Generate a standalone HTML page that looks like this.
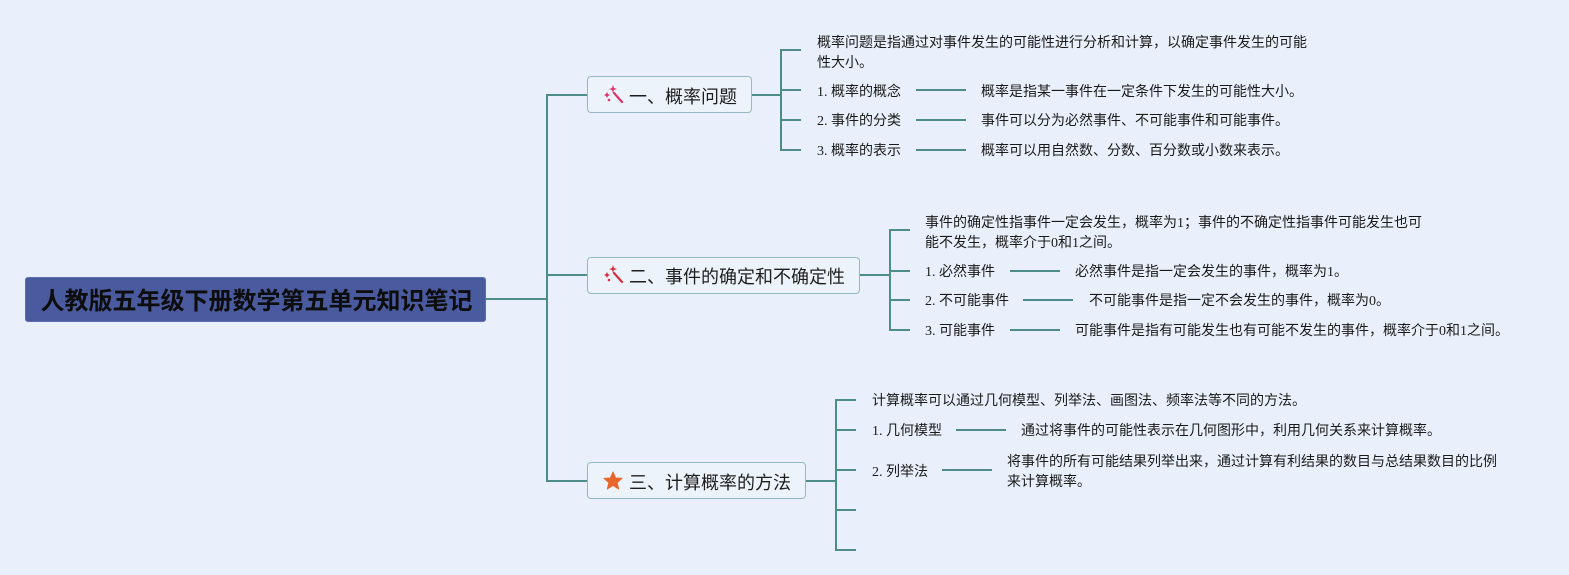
<!DOCTYPE html>
<html>
<head>
<meta charset="utf-8">
<style>
  html, body { margin:0; padding:0; }
  body { width:1569px; height:575px; background:#E9F0FB; position:relative; overflow:hidden;
         font-family:"Liberation Serif","Noto Sans CJK SC",serif; color:#1a1a1a; }
  .t { position:absolute; white-space:nowrap; font-size:14px; line-height:20px; }
  .box { position:absolute; box-sizing:border-box; border:1.5px solid #93B9C2; background:#EDF3FB; border-radius:4px; }
  .bt { position:absolute; white-space:nowrap; font-family:"Liberation Sans","Noto Sans CJK SC",sans-serif; font-size:18px; line-height:24px; color:#1e1e1e; }
  .root { position:absolute; left:25px; top:277px; width:461px; height:45px; background:#4A5A9E; border-radius:3px; box-sizing:border-box; border:1px solid #5e6db0; }
  .rt { position:absolute; left:0; top:1px; width:461px; text-align:center; line-height:45px; font-size:24px; font-weight:bold; font-family:"Liberation Sans","Noto Sans CJK SC",sans-serif; color:#0d0d0d; white-space:nowrap; }
</style>
</head>
<body>
<svg width="1569" height="575" style="position:absolute;left:0;top:0" xmlns="http://www.w3.org/2000/svg">
  <g stroke="#4E8C8A" stroke-width="2" fill="none">
    <line x1="486" y1="299" x2="547" y2="299"/>
    <line x1="547" y1="94" x2="547" y2="482"/>
    <line x1="546" y1="95" x2="587" y2="95"/>
    <line x1="546" y1="275" x2="587" y2="275"/>
    <line x1="546" y1="481" x2="587" y2="481"/>
    <line x1="751" y1="95" x2="781" y2="95"/>
    <line x1="781" y1="49" x2="781" y2="151"/>
    <line x1="780" y1="50" x2="801" y2="50"/>
    <line x1="780" y1="90" x2="801" y2="90"/>
    <line x1="780" y1="120" x2="801" y2="120"/>
    <line x1="780" y1="150" x2="801" y2="150"/>
    <line x1="916" y1="90" x2="966" y2="90"/>
    <line x1="916" y1="120" x2="966" y2="120"/>
    <line x1="916" y1="150" x2="966" y2="150"/>
    <line x1="860" y1="275" x2="890" y2="275"/>
    <line x1="890" y1="229" x2="890" y2="331"/>
    <line x1="889" y1="230" x2="910" y2="230"/>
    <line x1="889" y1="271" x2="910" y2="271"/>
    <line x1="889" y1="300" x2="910" y2="300"/>
    <line x1="889" y1="330" x2="910" y2="330"/>
    <line x1="1010" y1="271" x2="1060" y2="271"/>
    <line x1="1023" y1="300" x2="1073" y2="300"/>
    <line x1="1010" y1="330" x2="1060" y2="330"/>
    <line x1="805" y1="481" x2="836" y2="481"/>
    <line x1="836" y1="399" x2="836" y2="551"/>
    <line x1="835" y1="400" x2="856" y2="400"/>
    <line x1="835" y1="430" x2="856" y2="430"/>
    <line x1="835" y1="470" x2="856" y2="470"/>
    <line x1="835" y1="510" x2="856" y2="510"/>
    <line x1="835" y1="550" x2="856" y2="550"/>
    <line x1="956" y1="430" x2="1006" y2="430"/>
    <line x1="942" y1="470" x2="992" y2="470"/>
  </g>
</svg>

<div class="root"><div class="rt">人教版五年级下册数学第五单元知识笔记</div></div>

<div class="box" style="left:587px;top:76px;width:165px;height:37px;"></div>
<svg style="position:absolute;left:603px;top:84px" width="22" height="22" xmlns="http://www.w3.org/2000/svg">
  <line x1="11" y1="9" x2="19" y2="18" stroke="#E0336B" stroke-width="2.2" stroke-linecap="round"/>
  <path d="M10 1 L11 4 L14 5 L11 6 L10 9 L9 6 L6 5 L9 4 Z" fill="#E0336B"/>
  <path d="M4 8 L5 10 L7 11 L5 12 L4 14 L3 12 L1 11 L3 10 Z" fill="#E0336B"/>
  <circle cx="6" cy="16" r="1.3" fill="#E0336B"/>
</svg>
<div class="bt" style="left:629px;top:85px;">一、概率问题</div>

<div class="box" style="left:587px;top:257px;width:273px;height:37px;"></div>
<svg style="position:absolute;left:603px;top:264px" width="22" height="22" xmlns="http://www.w3.org/2000/svg">
  <line x1="11" y1="9" x2="19" y2="18" stroke="#D8313C" stroke-width="2.2" stroke-linecap="round"/>
  <path d="M10 1 L11 4 L14 5 L11 6 L10 9 L9 6 L6 5 L9 4 Z" fill="#D8313C"/>
  <path d="M4 8 L5 10 L7 11 L5 12 L4 14 L3 12 L1 11 L3 10 Z" fill="#D8313C"/>
  <circle cx="6" cy="16" r="1.3" fill="#D8313C"/>
</svg>
<div class="bt" style="left:629px;top:265px;">二、事件的确定和不确定性</div>

<div class="box" style="left:587px;top:462px;width:219px;height:37px;"></div>
<svg style="position:absolute;left:603px;top:471px" width="20" height="20" viewBox="0 0 20 20" xmlns="http://www.w3.org/2000/svg">
  <path d="M10 1 L12.6 7 L19 7.4 L14.1 11.6 L15.7 18 L10 14.5 L4.3 18 L5.9 11.6 L1 7.4 L7.4 7 Z" fill="#E8652C" stroke="#E8652C" stroke-width="1" stroke-linejoin="round"/>
</svg>
<div class="bt" style="left:629px;top:471px;">三、计算概率的方法</div>

<div class="t" style="left:817px;top:34px;">概率问题是指通过对事件发生的可能性进行分析和计算，以确定事件发生的可能<br>性大小。</div>
<div class="t" style="left:817px;top:83px;">1. 概率的概念</div>
<div class="t" style="left:981px;top:83px;">概率是指某一事件在一定条件下发生的可能性大小。</div>
<div class="t" style="left:817px;top:112px;">2. 事件的分类</div>
<div class="t" style="left:981px;top:112px;">事件可以分为必然事件、不可能事件和可能事件。</div>
<div class="t" style="left:817px;top:142px;">3. 概率的表示</div>
<div class="t" style="left:981px;top:142px;">概率可以用自然数、分数、百分数或小数来表示。</div>

<div class="t" style="left:925px;top:214px;">事件的确定性指事件一定会发生，概率为1；事件的不确定性指事件可能发生也可<br>能不发生，概率介于0和1之间。</div>
<div class="t" style="left:925px;top:263px;">1. 必然事件</div>
<div class="t" style="left:1075px;top:263px;">必然事件是指一定会发生的事件，概率为1。</div>
<div class="t" style="left:925px;top:292px;">2. 不可能事件</div>
<div class="t" style="left:1089px;top:292px;">不可能事件是指一定不会发生的事件，概率为0。</div>
<div class="t" style="left:925px;top:322px;">3. 可能事件</div>
<div class="t" style="left:1075px;top:322px;">可能事件是指有可能发生也有可能不发生的事件，概率介于0和1之间。</div>

<div class="t" style="left:872px;top:392px;">计算概率可以通过几何模型、列举法、画图法、频率法等不同的方法。</div>
<div class="t" style="left:872px;top:422px;">1. 几何模型</div>
<div class="t" style="left:1021px;top:422px;">通过将事件的可能性表示在几何图形中，利用几何关系来计算概率。</div>
<div class="t" style="left:872px;top:463px;">2. 列举法</div>
<div class="t" style="left:1007px;top:453px;">将事件的所有可能结果列举出来，通过计算有利结果的数目与总结果数目的比例<br>来计算概率。</div>
</body>
</html>
